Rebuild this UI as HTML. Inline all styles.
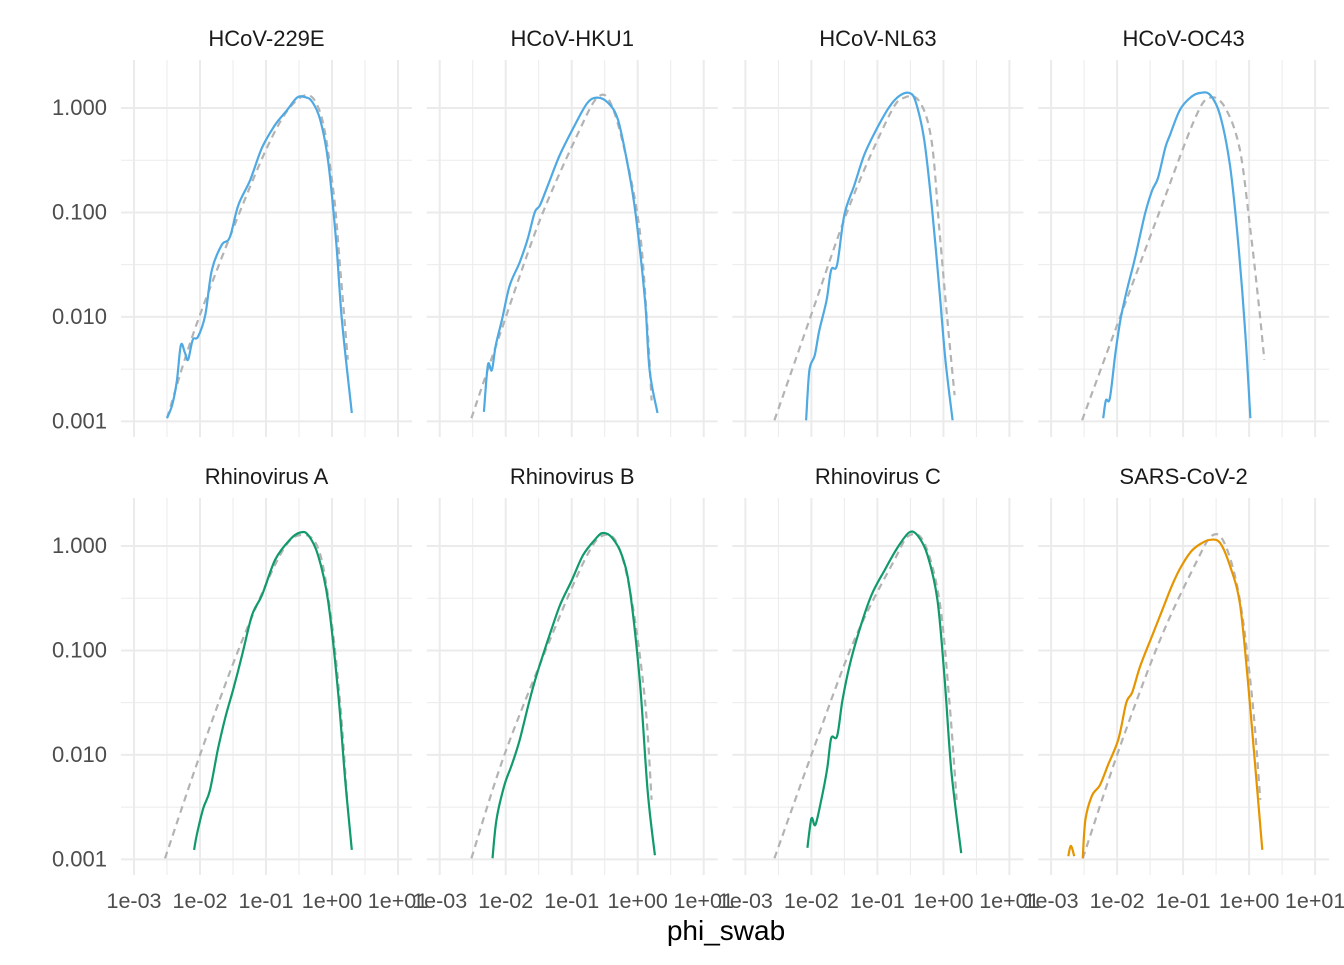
<!DOCTYPE html>
<html><head><meta charset="utf-8"><style>
body{margin:0;background:#fff;}
svg text{font-family:"Liberation Sans",Arial,sans-serif;}
</style></head><body>
<svg id="chart" width="1344" height="960" viewBox="0 0 1344 960" xmlns="http://www.w3.org/2000/svg"></svg>
<script>
const panelTitles = ["HCoV-229E","HCoV-HKU1","HCoV-NL63","HCoV-OC43","Rhinovirus A","Rhinovirus B","Rhinovirus C","SARS-CoV-2"];
const panelColors = ["#4FA9E2","#4FA9E2","#4FA9E2","#4FA9E2","#109A6E","#109A6E","#109A6E","#E69500"];
const xTickLabels = ["1e-03","1e-02","1e-01","1e+00","1e+01"];
const xTickLogs = [-3,-2,-1,0,1];
const yTickLabels = ["1.000","0.100","0.010","0.001"];
const yTickLogs = [0,-1,-2,-3];

// observed density (log10 x, log10 y)
const obsX = [
 [-2.5,-2.42,-2.35,-2.29,-2.23,-2.18,-2.11,-2.03,-1.92,-1.82,-1.67,-1.55,-1.42,-1.24,-1.06,-0.86,-0.68,-0.53,-0.41,-0.30,-0.18,-0.06,0.06,0.15,0.30],
 [-2.33,-2.27,-2.21,-2.15,-2.05,-1.94,-1.79,-1.67,-1.56,-1.48,-1.36,-1.18,-0.95,-0.76,-0.61,-0.45,-0.30,-0.15,-0.03,0.11,0.18,0.30],
 [-2.08,-2.03,-1.95,-1.88,-1.77,-1.70,-1.61,-1.5,-1.35,-1.2,-1.02,-0.82,-0.67,-0.52,-0.42,-0.29,-0.17,-0.06,0.03,0.14],
 [-2.21,-2.17,-2.11,-2.03,-1.95,-1.85,-1.73,-1.58,-1.47,-1.38,-1.27,-1.2,-1.05,-0.89,-0.74,-0.59,-0.44,-0.29,-0.17,-0.06,0.02],
 [-2.09,-2.05,-1.95,-1.85,-1.73,-1.62,-1.5,-1.36,-1.21,-1.06,-0.86,-0.64,-0.48,-0.36,-0.21,-0.06,0.09,0.20,0.30],
 [-2.2,-2.14,-2.02,-1.91,-1.79,-1.64,-1.52,-1.36,-1.18,-1.0,-0.83,-0.65,-0.53,-0.39,-0.24,-0.12,0.03,0.15,0.26],
 [-2.06,-2.0,-1.94,-1.85,-1.76,-1.70,-1.61,-1.53,-1.42,-1.27,-1.09,-0.89,-0.70,-0.52,-0.39,-0.24,-0.09,0.02,0.12,0.27],
 [-2.52,-2.48,-2.38,-2.26,-2.14,-1.98,-1.86,-1.77,-1.65,-1.47,-1.32,-1.17,-1.05,-0.89,-0.74,-0.59,-0.44,-0.29,-0.14,-0.02,0.11,0.20]
];
const obsY = [
 [-2.97,-2.84,-2.61,-2.27,-2.34,-2.41,-2.22,-2.19,-1.98,-1.55,-1.31,-1.24,-0.93,-0.69,-0.38,-0.16,-0.02,0.10,0.105,0.06,-0.11,-0.50,-1.26,-2.03,-2.92],
 [-2.91,-2.46,-2.51,-2.27,-2.01,-1.70,-1.48,-1.26,-1.0,-0.93,-0.74,-0.45,-0.16,0.05,0.10,0.05,-0.11,-0.55,-1.02,-1.84,-2.51,-2.92],
 [-2.99,-2.51,-2.37,-2.13,-1.84,-1.55,-1.50,-1.02,-0.74,-0.45,-0.21,0.01,0.115,0.145,0.06,-0.31,-0.98,-1.74,-2.41,-2.99],
 [-2.97,-2.80,-2.78,-2.37,-2.03,-1.74,-1.44,-1.02,-0.79,-0.67,-0.38,-0.26,-0.02,0.10,0.145,0.125,-0.07,-0.55,-1.26,-2.13,-2.97],
 [-2.91,-2.77,-2.51,-2.34,-1.95,-1.65,-1.38,-1.04,-0.66,-0.47,-0.13,0.06,0.13,0.105,-0.09,-0.52,-1.38,-2.24,-2.91],
 [-2.99,-2.62,-2.29,-2.1,-1.86,-1.48,-1.21,-0.90,-0.57,-0.33,-0.09,0.06,0.125,0.08,-0.09,-0.42,-1.28,-2.34,-2.96],
 [-2.89,-2.61,-2.67,-2.43,-2.13,-1.84,-1.82,-1.48,-1.14,-0.80,-0.47,-0.23,-0.02,0.13,0.10,-0.09,-0.52,-1.28,-2.15,-2.94],
 [-2.99,-2.62,-2.39,-2.29,-2.1,-1.85,-1.5,-1.40,-1.15,-0.86,-0.62,-0.38,-0.22,-0.06,0.02,0.06,0.03,-0.19,-0.55,-1.28,-2.24,-2.91]
];
// fitted density (dashed)
const fitX = [
 [-2.5,-2.0,-1.0,-0.48,-0.18,0.02,0.12,0.24],
 [-2.52,-2.09,-1.48,-0.88,-0.61,-0.42,-0.2,0.03,0.15,0.21],
 [-2.56,-2.03,-1.42,-0.82,-0.59,-0.36,-0.18,-0.06,0.06,0.17],
 [-2.53,-2.03,-1.35,-0.82,-0.59,-0.36,-0.14,0.02,0.14,0.23],
 [-2.53,-2.0,-1.39,-0.79,-0.48,-0.21,-0.03,0.12,0.23],
 [-2.52,-2.02,-1.33,-0.8,-0.53,-0.3,-0.09,0.11,0.21],
 [-2.56,-2.0,-1.35,-0.74,-0.52,-0.29,-0.06,0.09,0.20],
 [-2.52,-1.95,-1.35,-0.82,-0.56,-0.36,-0.14,0.05,0.17]
];
const fitY = [
 [-2.97,-1.98,-0.40,0.10,-0.04,-0.79,-1.5,-2.41],
 [-2.97,-2.17,-1.07,-0.21,0.10,0.06,-0.40,-1.17,-2.13,-2.8],
 [-2.99,-2.03,-0.93,-0.07,0.10,0.06,-0.31,-1.17,-2.03,-2.75],
 [-2.99,-2.13,-0.98,-0.10,0.10,0.0,-0.40,-1.17,-1.84,-2.41],
 [-2.99,-2.0,-0.95,-0.09,0.105,-0.02,-0.61,-1.48,-2.43],
 [-2.99,-2.0,-0.90,-0.13,0.10,0.01,-0.52,-1.48,-2.43],
 [-2.99,-2.0,-0.90,-0.13,0.10,0.03,-0.52,-1.48,-2.43],
 [-2.99,-1.91,-0.90,-0.18,0.10,0.01,-0.52,-1.48,-2.43]
];
const blipX = [-2.74,-2.70,-2.65];
const blipY = [-2.97,-2.87,-2.97];

const NS="http://www.w3.org/2000/svg";
const svg=document.getElementById('chart');
const PW=291, PH=377, colStep=305.7, rowTops=[60,498], left0=121;
const XMIN=-3.197, XMAX=1.212, YMIN=-3.15, YMAX=0.46;
function mk(tag,attrs,parent){const e=document.createElementNS(NS,tag);for(const k in attrs)e.setAttribute(k,attrs[k]);(parent||svg).appendChild(e);return e;}
function sx(c,lx){return left0+c*colStep+(lx-XMIN)/(XMAX-XMIN)*PW;}
function sy(r,ly){return rowTops[r]+(YMAX-ly)/(YMAX-YMIN)*PH;}
function smooth(pts){
 let d="M"+pts[0][0].toFixed(1)+","+pts[0][1].toFixed(1);
 for(let i=0;i<pts.length-1;i++){
  const p0=pts[Math.max(0,i-1)],p1=pts[i],p2=pts[i+1],p3=pts[Math.min(pts.length-1,i+2)];
  const t=6;
  d+=" C"+(p1[0]+(p2[0]-p0[0])/t).toFixed(1)+","+(p1[1]+(p2[1]-p0[1])/t).toFixed(1)+" "+(p2[0]-(p3[0]-p1[0])/t).toFixed(1)+","+(p2[1]-(p3[1]-p1[1])/t).toFixed(1)+" "+p2[0].toFixed(1)+","+p2[1].toFixed(1);
 }
 return d;
}
for(let p=0;p<8;p++){
 const c=p%4, r=Math.floor(p/4);
 const g=mk('g',{});
 
 
 const x0=left0+c*colStep, y0=rowTops[r];
 [-2.5,-1.5,-0.5,0.5].forEach(v=>{const X=sx(c,v);const l=mk('line',{x1:X,x2:X,y1:y0,y2:y0+PH,stroke:'#EBEBEB','stroke-width':1},g);});
 [-2.5,-1.5,-0.5].forEach(v=>{const Y=sy(r,v);const l=mk('line',{x1:x0,x2:x0+PW,y1:Y,y2:Y,stroke:'#EBEBEB','stroke-width':1},g);});
 xTickLogs.forEach(v=>{const X=sx(c,v);const l=mk('line',{x1:X,x2:X,y1:y0,y2:y0+PH,stroke:'#EBEBEB','stroke-width':2},g);});
 yTickLogs.forEach(v=>{const Y=sy(r,v);const l=mk('line',{x1:x0,x2:x0+PW,y1:Y,y2:Y,stroke:'#EBEBEB','stroke-width':2},g);});
 const t=mk('text',{x:x0+PW/2,y:y0-14,'text-anchor':'middle','font-size':22,fill:'#1A1A1A'},g);
 t.textContent=panelTitles[p];
 
 
 const fp=fitX[p].map((v,i)=>[sx(c,v),sy(r,fitY[p][i])]);
 const fl=mk('path',{d:smooth(fp),fill:'none',stroke:'#B3B3B3','stroke-width':2.2,'stroke-dasharray':'7,5'},g);
 
 
 const op=obsX[p].map((v,i)=>[sx(c,v),sy(r,obsY[p][i])]);
 const ol=mk('path',{d:smooth(op),fill:'none',stroke:panelColors[p],'stroke-width':2.2},g);
 
 
 if(p===7){
  const bp=blipX.map((v,i)=>[sx(c,v),sy(r,blipY[i])]);
  const bl=mk('path',{d:smooth(bp),fill:'none',stroke:panelColors[p],'stroke-width':2.2},g);
  
  
 }
 if(c===0){
  yTickLogs.forEach((v,i)=>{const tt=mk('text',{x:107,y:sy(r,v)+7,'text-anchor':'end','font-size':22,fill:'#4D4D4D'},g);tt.textContent=yTickLabels[i];});
 }
 if(r===1){
  xTickLogs.forEach((v,i)=>{const tt=mk('text',{x:sx(c,v),y:908,'text-anchor':'middle','font-size':21.5,fill:'#4D4D4D'},g);tt.textContent=xTickLabels[i];});
 }
}
const at=mk('text',{x:726,y:940,'text-anchor':'middle','font-size':28,fill:'#000'});
at.textContent='phi_swab';


</script>
</body></html>
